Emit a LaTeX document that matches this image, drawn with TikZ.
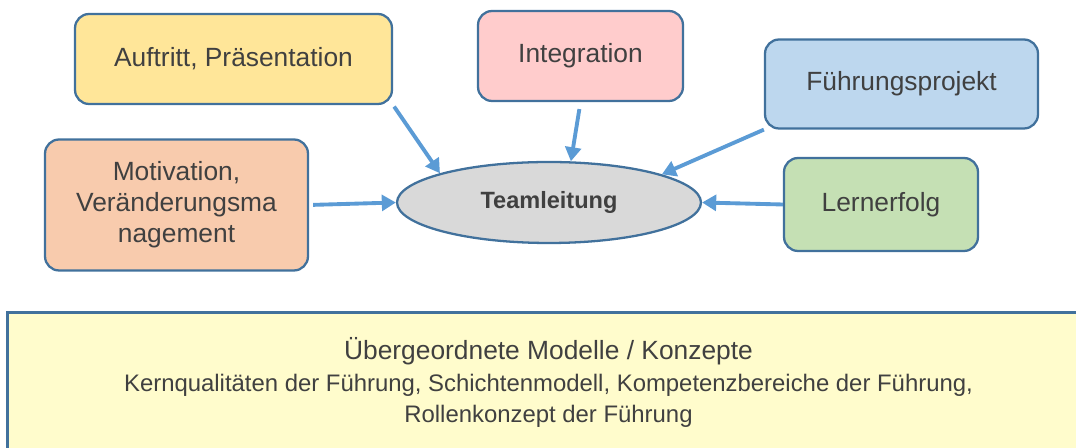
\documentclass[tikz,border=0pt]{standalone}
\usepackage{fontspec}
\setmainfont{Liberation Sans}
\usepackage{tikz}
\usetikzlibrary{shapes.geometric}
\usetikzlibrary{arrows.meta}
\definecolor{borderBlue}{HTML}{41719C}
\definecolor{arrowBlue}{HTML}{5B9BD5}
\definecolor{textGray}{HTML}{404040}
\tikzset{
  topicBox/.style={%
    rectangle, rounded corners=8pt, draw=borderBlue, line width=1.3pt,
    text=textGray, align=center, inner sep=0pt,
    font=\fontsize{15}{17.6}\selectfont,
  },
  arrowLine/.style={%
    draw=arrowBlue, line width=2.2pt,
    -{Triangle[length=8pt,width=9pt]},
  }
}

\begin{document}
\begin{tikzpicture}[x=0.02cm,y=-0.02cm]
                \path[use as bounding box, clip] (0,0) rectangle (1076,448);
                % box for the overarching models, runs off the page
                \node[rectangle, draw=borderBlue, line width=1.6pt, fill=yellow!20!white,
                      minimum width=21.66cm, minimum height=2.78cm, align=center,
                      text=textGray, inner sep=0pt, font=\fontsize{13.6}{17.2}\selectfont]
                  (models) at (548.5,382)
                  {{\fontsize{15}{17.6}\selectfont \"Ubergeordnete Modelle / Konzepte}\\[1.5pt]
                   Kernqualit\"aten der F\"uhrung, Schichtenmodell, Kompetenzbereiche der F\"uhrung,\\
                   Rollenkonzept der F\"uhrung};
                \node[topicBox, fill={rgb,255:red,255;green,230;blue,153},
                      minimum width=6.34cm, minimum height=1.80cm]
                  (topic1) at (233.5,59) {Auftritt, Pr\"asentation};
                \node[topicBox, fill={rgb,255:red,255;green,204;blue,204},
                      minimum width=4.10cm, minimum height=1.80cm]
                  (topic2) at (580.5,56) {Integration};
                \node[topicBox, fill={rgb,255:red,189;green,215;blue,238},
                      minimum width=5.46cm, minimum height=1.78cm]
                  (topic3) at (901.5,84) {F\"uhrungsprojekt};
                \node[topicBox, fill={rgb,255:red,248;green,203;blue,173},
                      minimum width=5.26cm, minimum height=2.62cm]
                  (topic4) at (176.5,205) {Motivation,\\Ver\"anderungsma\\nagement};
                \node[topicBox, fill={rgb,255:red,197;green,224;blue,180},
                      minimum width=3.88cm, minimum height=1.86cm]
                  (topic5) at (881,204.5) {Lernerfolg};
                \node[ellipse, draw=borderBlue, line width=1.3pt, fill={rgb,255:red,217;green,217;blue,217},
                      minimum width=6.08cm, minimum height=1.62cm, inner sep=0pt,
                      text=textGray, font=\bfseries\fontsize{13.4}{16}\selectfont]
                  (team) at (549,202.5) {Teamleitung};
                \draw
                  (topic1.south east) edge[arrowLine, shorten <=1pt] (team.165)
                  ;
                \draw
                  (topic2.south) edge[arrowLine, shorten <=4pt] (team.62)
                  ;
                \draw
                  (topic3.south west) edge[arrowLine] (team.14)
                  ;
                \draw
                  (topic4.east) edge[arrowLine, shorten <=2.3pt] (team.west)
                  ;
                \draw
                  (topic5.west) edge[arrowLine] (team.east)
                  ;
              \end{tikzpicture}
\end{document}
